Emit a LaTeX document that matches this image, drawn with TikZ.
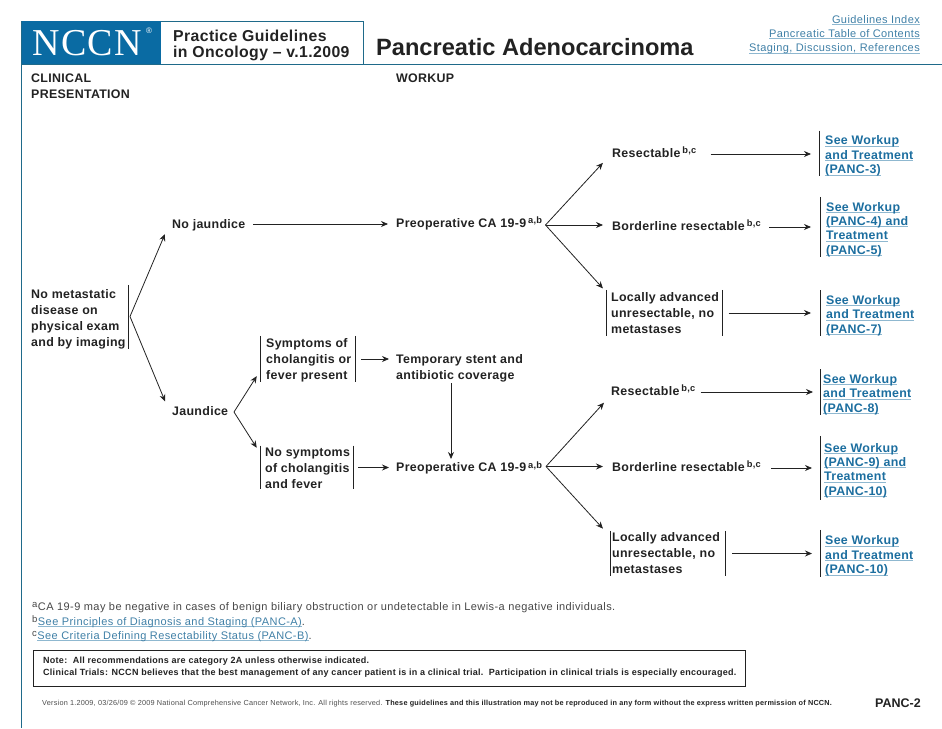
\documentclass[tikz,border=0pt]{standalone}
\usepackage{fontspec}
\usetikzlibrary{arrows.meta}
\setmainfont[LetterSpace=2.5]{Liberation Sans}
\newfontfamily\nccnfont[LetterSpace=4]{Liberation Serif}
\newfontfamily\plainfont{Liberation Sans}
\newfontfamily\trkfont[LetterSpace=3.8]{Liberation Sans}
\newfontfamily\smfont[LetterSpace=3]{Liberation Sans}
\definecolor{nblue}{HTML}{0A6BA3}
\definecolor{frame}{HTML}{1F6A8A}
\definecolor{ink}{HTML}{222222}
\definecolor{linkb}{HTML}{1C6E9F}
\definecolor{linkl}{HTML}{3F7FA6}
\definecolor{ulc}{HTML}{8FB8D0}
\newcommand\ulk[1]{\leavevmode\setbox0\hbox{#1}\rlap{\textcolor{ulc}{\rule[-1.8pt]{\wd0}{0.9pt}}}\box0}
\newcommand\sups[1]{\kern2pt\raisebox{3.8pt}{\fontsize{9.3}{9.3}\selectfont #1}}
\newcommand\fsup[1]{\raisebox{3pt}{\fontsize{9.5}{9.5}\selectfont #1}\kern0.5pt}
\newcommand\lead[1]{\rule{0pt}{#1pt}}
\tikzset{
  tx/.style={inner sep=0pt,align=left,anchor=west,text=ink,font=\fontsize{12.4}{16}\selectfont\bfseries},
  one/.style={tx,text height=8.6pt,text depth=0pt},
  lnk/.style={tx,text=linkb,font=\fontsize{12.4}{14.4}\selectfont\bfseries},
  bar/.style={draw=ink,line width=0.8pt},
  arr/.style={draw=ink,line width=0.8pt,-{Stealth[length=7pt,width=6pt]}},
  frm/.style={draw=frame,line width=0.9pt},
  toplink/.style={inner sep=0pt,anchor=east,text=linkl,font=\trkfont\fontsize{11}{14}\selectfont},
  foot/.style={inner sep=0pt,anchor=base west,text=black!72,font=\trkfont\fontsize{11}{14}\selectfont},
}
\begin{document}
\begin{tikzpicture}[x=1pt,y=-1pt]
\useasboundingbox (0,0) rectangle (942,728);
% header
\fill[nblue] (21,21) rectangle (161,64);
\draw[frm] (161,21) -- (363,21) -- (363,64);
\draw[frm] (942,64) -- (21,64) -- (21,728);
\draw[frm] (21,21) -- (21,64);
\node[inner sep=0pt,anchor=base west,text=white,font=\fontsize{38}{38}\selectfont\nccnfont] (logo) at (32,55) {NCCN};
\node[inner sep=0pt,text=white,font=\fontsize{8}{8}\selectfont\plainfont] (reg) at (149,31) {®};
\node[tx,font=\fontsize{15.8}{16}\selectfont\bfseries] (pg) at (173,45) {Practice Guidelines\\in Oncology -- v.1.2009};
\node[inner sep=0pt,anchor=base west,text=ink,font=\fontsize{23.6}{24}\selectfont\bfseries\plainfont] (title) at (376,55) {Pancreatic Adenocarcinoma};
\node[toplink] (t1) at (920,20) {\ulk{Guidelines Index}};
\node[toplink] (t2) at (920,34) {\ulk{Pancreatic Table of Contents}};
\node[toplink] (t3) at (920,49) {\ulk{Staging, Discussion, References}};
\node[tx] (cp) at (31,86) {CLINICAL\\PRESENTATION};
\node[one] (wk) at (396,78) {WORKUP};
% left column
\node[tx,minimum height=64pt] (nm) at (31,319) {No metastatic\\disease on\\physical exam\\and by imaging};
\draw[bar] ([xshift=2.5pt,yshift=2pt]nm.north east) -- ([xshift=2.5pt,yshift=2pt]nm.south east);
\coordinate (ap0) at (130,316.5);
\node[one] (nj) at (172,224) {No jaundice};
\node[one] (ja) at (172,411) {Jaundice};
\draw[arr,shorten >=18pt] (ap0) -- ([yshift=6.5pt]nj.west);
\draw[arr,shorten >=18pt] (ap0) -- ([yshift=-2.5pt]ja.south west);
% jaundice branch
\coordinate (ap1) at (234,412);
\node[tx,minimum height=46pt] (sy) at (266,359) {\lead{11}Symptoms of\\cholangitis or\\fever present};
\draw[bar] ([xshift=-5.5pt]sy.north west) -- ([xshift=-5.5pt]sy.south west);
\draw[bar] ([xshift=3.5pt]sy.north east) -- ([xshift=3.5pt]sy.south east);
\node[tx,minimum height=43pt] (ns) at (265,467.5) {\lead{11}No symptoms\\of cholangitis\\and fever};
\draw[bar] ([xshift=-4.5pt]ns.north west) -- ([xshift=-4.5pt]ns.south west);
\draw[bar] ([xshift=3.5pt]ns.north east) -- ([xshift=3.5pt]ns.south east);
\draw[arr,shorten >=7pt] (ap1) -- ([xshift=-5.5pt,yshift=12pt]sy.south west);
\draw[arr,shorten >=7pt] (ap1) -- ([xshift=-4.5pt,yshift=-8pt]ns.north west);
\node[tx] (ts) at (396,368) {Temporary stent and\\antibiotic coverage};
\node[one] (p1) at (396,223) {Preoperative CA 19-9\sups{a,b}};
\node[one] (p2) at (396,467.5) {Preoperative CA 19-9\sups{a,b}};
\draw[arr,shorten <=10pt,shorten >=7pt] (sy.east) -- (sy.east -| ts.west);
\draw[arr,shorten <=8pt,shorten >=7pt] (ns.east) -- (ns.east -| p2.west);
\draw[arr,shorten <=8pt,shorten >=8pt] (nj.east) -- (nj.east -| p1.west);
\draw[arr,shorten <=1pt,shorten >=4pt] (ts.south -| 451,0) -- (p2.north -| 451,0);
% upper options
\coordinate (ap2) at (545.5,225);
\node[one] (r1) at (612,153) {Resectable\sups{b,c}};
\node[one] (b1) at (612,226) {Borderline resectable\sups{b,c}};
\node[tx,minimum height=46pt] (l1) at (611,313) {Locally advanced\\unresectable, no\\metastases};
\draw[bar] ([xshift=-5pt]l1.north west) -- ([xshift=-5pt]l1.south west);
\draw[bar] ([xshift=3.5pt]l1.north east) -- ([xshift=3.5pt]l1.south east);
\draw[arr,shorten >=13.4pt] (ap2) -- (r1.west);
\draw[arr,shorten >=9pt] (ap2) -- (ap2 -| b1.west);
\draw[arr,shorten >=4.5pt] (ap2) -- ([xshift=-5pt,yshift=-2pt]l1.north west);
% lower options
\coordinate (ap3) at (546,466.5);
\node[one] (r2) at (611,391) {Resectable\sups{b,c}};
\node[one] (b2) at (612,467) {Borderline resectable\sups{b,c}};
\node[tx,minimum height=45pt] (l2) at (612,553.5) {Locally advanced\\unresectable, no\\metastases};
\draw[bar] ([xshift=-2pt]l2.north west) -- ([xshift=-2pt]l2.south west);
\draw[bar] ([xshift=5pt]l2.north east) -- ([xshift=5pt]l2.south east);
\draw[arr,shorten >=10.4pt] (ap3) -- ([yshift=-4pt]r2.west);
\draw[arr,shorten >=9pt] (ap3) -- (ap3 -| b2.west);
\draw[arr,shorten >=10.4pt] (ap3) -- ([xshift=-2pt,yshift=-5.5pt]l2.north west);
% links
\node[lnk,minimum height=43pt] (k1) at (825,153.5) {\lead{14}\ulk{See Workup}\\\ulk{and Treatment}\\\ulk{(PANC-3)}};
\node[lnk,minimum height=56pt] (k2) at (826,227) {\lead{14}\ulk{See Workup}\\\ulk{(PANC-4) and}\\\ulk{Treatment}\\\ulk{(PANC-5)}};
\node[lnk,minimum height=42pt] (k3) at (826,313) {\lead{14}\ulk{See Workup}\\\ulk{and Treatment}\\\ulk{(PANC-7)}};
\node[lnk,minimum height=44pt] (k4) at (823,392) {\lead{14}\ulk{See Workup}\\\ulk{and Treatment}\\\ulk{(PANC-8)}};
\node[lnk,minimum height=64pt] (k5) at (824,468) {\lead{14}\ulk{See Workup}\\\ulk{(PANC-9) and}\\\ulk{Treatment}\\\ulk{(PANC-10)}};
\node[lnk,minimum height=47pt] (k6) at (825,553.5) {\lead{14}\ulk{See Workup}\\\ulk{and Treatment}\\\ulk{(PANC-10)}};
\draw[bar] ([xshift=-5.5pt]k1.north west) -- ([xshift=-5.5pt]k1.south west);
\draw[bar] ([xshift=-5.5pt]k2.north west) -- ([xshift=-5.5pt]k2.south west);
\draw[bar] ([xshift=-5.5pt]k3.north west) -- ([xshift=-5.5pt]k3.south west);
\draw[bar] ([xshift=-2.5pt]k4.north west) -- ([xshift=-2.5pt]k4.south west);
\draw[bar] ([xshift=-3.5pt]k5.north west) -- ([xshift=-3.5pt]k5.south west);
\draw[bar] ([xshift=-4.5pt]k6.north west) -- ([xshift=-4.5pt]k6.south west);
\draw[arr,shorten <=14pt,shorten >=14pt] ([yshift=-1pt]r1.east) -- ([yshift=-1pt]r1.east -| k1.west);
\draw[arr,shorten <=8pt,shorten >=15pt] ([yshift=-1pt]b1.east) -- ([yshift=-1pt]b1.east -| k2.west);
\draw[arr,shorten <=9.5pt,shorten >=15pt] (l1.east) -- (l1.east -| k3.west);
\draw[arr,shorten <=5pt,shorten >=10pt] ([yshift=-1pt]r2.east) -- ([yshift=-1pt]r2.east -| k4.west);
\draw[arr,shorten <=10pt,shorten >=12pt] ([yshift=-1pt]b2.east) -- ([yshift=-1pt]b2.east -| k5.west);
\draw[arr,shorten <=12pt,shorten >=13pt] (l2.east) -- (l2.east -| k6.west);
% footnotes
\node[foot] (fa) at (32,610) {\fsup{a}CA 19-9 may be negative in cases of benign biliary obstruction or undetectable in Lewis-a negative individuals.};
\node[foot] (fb) at (32,625) {\fsup{b}\textcolor{linkl}{\ulk{See Principles of Diagnosis and Staging (PANC-A)}}.};
\node[foot] (fc) at (32,639) {\fsup{c}\textcolor{linkl}{\ulk{See Criteria Defining Resectability Status (PANC-B)}}.};
\node[draw=ink,line width=0.8pt,anchor=north west,inner sep=0pt,minimum width=712pt,minimum height=36pt] (nb) at (32.5,649.5) {};
\node[tx,font=\smfont\fontsize{9}{12}\selectfont\bfseries] (nt) at (43,667) {Note:\ \ All recommendations are category 2A unless otherwise indicated.\\Clinical Trials: NCCN believes that the best management of any cancer patient is in a clinical trial.\ \ Participation in clinical trials is especially encouraged.};
\node[inner sep=0pt,anchor=base west,text=black!70,font=\smfont\fontsize{7.3}{8}\selectfont] (ver) at (42,705.5) {Version 1.2009, 03/26/09 © 2009 National Comprehensive Cancer Network, Inc. All rights reserved. \textcolor{ink}{\bfseries These guidelines and this illustration may not be reproduced in any form without the express written permission of NCCN.}};
\node[inner sep=0pt,anchor=base east,text=ink,font=\fontsize{12.5}{13}\selectfont\bfseries\plainfont] (pn) at (921,707) {PANC-2};
\end{tikzpicture}
\end{document}
